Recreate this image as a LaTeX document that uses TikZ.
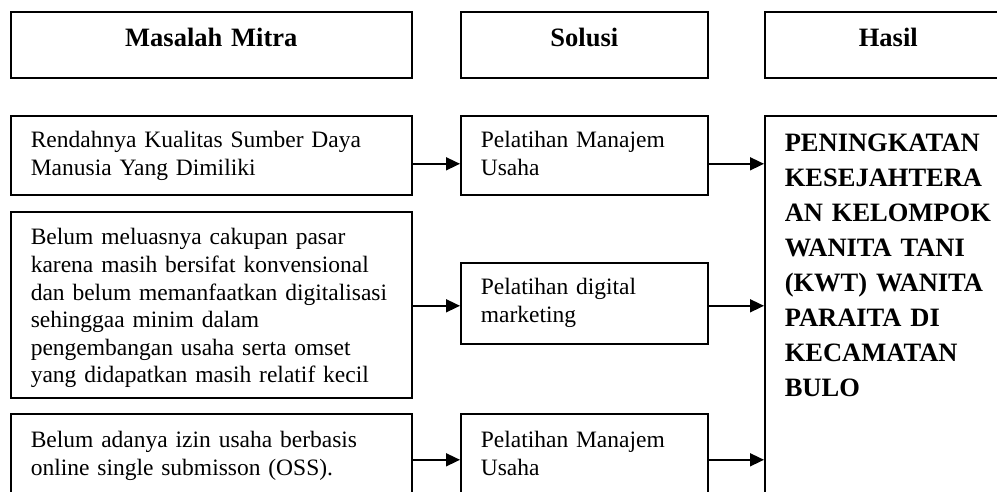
\documentclass[tikz,border=0pt]{standalone}
\usepackage{fontspec}
\setmainfont{Liberation Serif}
\usetikzlibrary{arrows.meta}
\newcommand\bodyfont{\fontsize{23.5}{27.6}\selectfont\hyphenpenalty=10000}
\newcommand\headfont{\fontsize{26.5}{35}\selectfont\bfseries\hyphenpenalty=10000}
\begin{document}
\begin{tikzpicture}[x=1pt, y=-1pt,
  box/.style={draw, line width=1.6pt, anchor=north west, inner xsep=20pt, inner ysep=0pt, align=left, font=\bodyfont},
  head/.style={box, align=center, font=\headfont, text height=35pt, text depth=31pt},
  link/.style={line width=1.6pt, -{Triangle[length=14pt,width=13pt]}}]
\useasboundingbox (0,0) rectangle (997,491);
\fill[white] (0,0) rectangle (997,491);
\clip (0,0) rectangle (997,491);
% column headers
\node[head, text width=361pt] (hmasalah) at (10,11) {Masalah Mitra};
\node[head, text width=207pt] (hsolusi) at (460,11) {Solusi};
\node[head, text width=207pt] (hhasil) at (764,11) {Hasil};
% masalah mitra
\node[box, text width=361pt, text height=32pt, text depth=47pt] (m1) at (10,115) {Rendahnya Kualitas Sumber Daya\\Manusia Yang Dimiliki};
\node[box, text width=361pt, text height=33pt, text depth=153pt] (m2) at (10,211) {Belum meluasnya cakupan pasar\\karena masih bersifat konvensional\\dan belum memanfaatkan digitalisasi\\sehinggaa minim dalam\\pengembangan usaha serta omset\\yang didapatkan masih relatif kecil};
\node[box, text width=361pt, text height=34pt, text depth=58pt] (m3) at (10,413) {Belum adanya izin usaha berbasis\\online single submisson (OSS).};
% solusi
\node[box, text width=207pt, text height=32pt, text depth=47pt] (s1) at (460,115) {Pelatihan Manajem\\Usaha};
\node[box, text width=207pt, text height=32pt, text depth=49pt] (s2) at (460,262) {Pelatihan digital\\marketing};
\node[box, text width=207pt, text height=34pt, text depth=58pt] (s3) at (460,413) {Pelatihan Manajem\\Usaha};
% hasil
\node[box, font=\headfont, text width=215pt, text height=36pt, text depth=400pt] (hasil) at (764,115) {PENINGKATAN\\KESEJAHTERA\\AN KELOMPOK\\WANITA TANI\\(KWT) WANITA\\PARAITA DI\\KECAMATAN\\BULO};
\draw[link] ([yshift=-8.5pt]m1.east) -- ([yshift=-8.5pt]m1.east -| s1.west);
\draw[link] ([yshift=-1pt]m2.east) -- ([yshift=-1pt]m2.east -| s2.west);
\draw[link] (m3.east) -- (m3.east -| s3.west);
\draw[link] ([yshift=-8.5pt]s1.east) -- ([yshift=-8.5pt]s1.east -| hasil.west);
\draw[link] ([yshift=-2.5pt]s2.east) -- ([yshift=-2.5pt]s2.east -| hasil.west);
\draw[link] (s3.east) -- (s3.east -| hasil.west);
\end{tikzpicture}
\end{document}
